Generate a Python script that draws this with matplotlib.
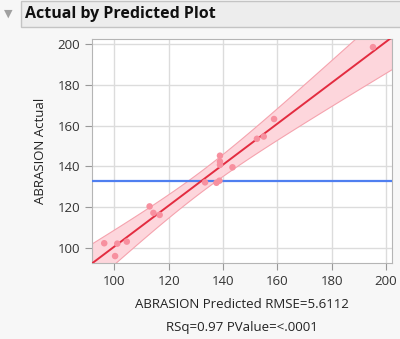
import numpy as np
import matplotlib
matplotlib.use("Agg")
import matplotlib.pyplot as plt
from matplotlib.patches import Rectangle

plt.rcParams.update({"font.family": ["Open Sans", "DejaVu Sans"], "font.size": 9})

# values
predicted = [96.3, 100.3, 101.1, 104.6, 113.0, 114.4, 116.7, 133.4, 137.6, 138.7,
             138.9, 138.9, 138.9, 143.5, 152.5, 155.0, 158.8, 195.2]
actual = [102.2, 95.9, 102.0, 103.0, 120.3, 117.1, 116.1, 132.1, 131.9, 132.9,
          145.2, 142.3, 140.7, 139.5, 153.5, 154.6, 163.2, 198.5]
mean_actual = 133.0
rmse = 5.6112
band_k = 3.9
x_ticks = [100, 120, 140, 160, 180, 200]
y_ticks = [100, 120, 140, 160, 180, 200]

x = np.array(predicted)
y = np.array(actual)
n = len(x)

BG = "#f7f7f7"
fig = plt.figure(figsize=(4.0, 3.39), dpi=100, facecolor=BG)

# ── title bar ──
fig.patches.append(Rectangle((21 / 400, 1 - 27 / 339), 400 / 400, 26 / 339,
                             transform=fig.transFigure, facecolor="#ededed",
                             edgecolor="#c4c4c4", lw=1))
fig.text(8 / 400, 1 - 14 / 339, "▼", color="#a0a0a0", fontsize=8, ha="center",
         va="center", family="DejaVu Sans")
fig.text(25 / 400, 1 - 14 / 339, "Actual by Predicted Plot", fontsize=11.5,
         fontweight="bold", color="#111111", va="center")

ax = fig.add_axes([92 / 400, 1 - 263 / 339, 300 / 400, 224 / 339])
ax.set_facecolor("white")
ax.set_xlim(91.8, 202.2)
ax.set_ylim(92.5, 202.5)

# fit line + confidence band
slope, icpt = np.polyfit(x, y, 1)
xs = np.linspace(91.8, 202.2, 200)
xbar = x.mean()
sxx = ((x - xbar) ** 2).sum()
hw = band_k * rmse * np.sqrt(1 / n + (xs - xbar) ** 2 / sxx)
yfit = icpt + slope * xs
ax.fill_between(xs, yfit - hw, yfit + hw, facecolor="#fdd6dc", edgecolor="#f5a3ae",
                lw=0.8, zorder=2)
ax.axhline(mean_actual, color="#4f7ff0", lw=1.6, zorder=3)
ax.plot(xs, yfit, color="#e32c40", lw=1.4, zorder=4)
ax.scatter(x, y, s=22, color="#f7909f", edgecolors="none", zorder=5)

ax.set_xticks(x_ticks)
ax.set_yticks(y_ticks)
ax.grid(True, color="#dcdcdc", lw=1.0)
ax.set_axisbelow(True)
for s in ax.spines.values():
    s.set_color("#b5b5b5")
ax.tick_params(colors="#999999", labelcolor="#333333", labelsize=9.5, length=5,
               width=0.8)

fig.text(242 / 400, 1 - 304 / 339, "ABRASION Predicted RMSE=5.6112", ha="center",
         va="center", fontsize=9.5, color="#222222")
fig.text(242 / 400, 1 - 327 / 339, "RSq=0.97 PValue=<.0001", ha="center",
         va="center", fontsize=9.5, color="#222222")
fig.text(41 / 400, 1 - 151 / 339, "ABRASION Actual", rotation=90, ha="center",
         va="center", fontsize=9.5, color="#222222")

fig.savefig("out.png", dpi=100, facecolor=BG)
